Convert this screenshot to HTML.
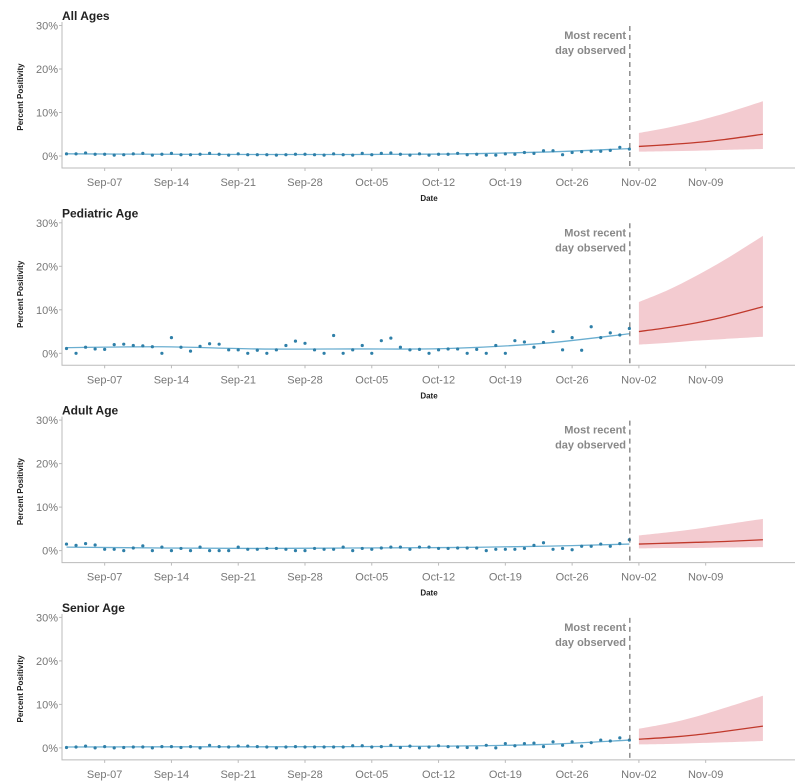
<!DOCTYPE html>
<html><head><meta charset="utf-8">
<style>
body{margin:0;background:#fff;}
svg{display:block;font-family:"Liberation Sans",sans-serif;}
</style></head>
<body>
<svg id="chart" width="800" height="784" viewBox="0 0 800 784" xmlns="http://www.w3.org/2000/svg"></svg>
<script>
const panelTitles = ["All Ages","Pediatric Age","Adult Age","Senior Age"];
const yTicks = [0,10,20,30];
const yTickLabels = ["0%","10%","20%","30%"];
const xTickDays = [4,11,18,25,32,39,46,53,60,67]; // days since Sep-03
const xTickLabels = ["Sep-07","Sep-14","Sep-21","Sep-28","Oct-05","Oct-12","Oct-19","Oct-26","Nov-02","Nov-09"];
const lastObservedDay = 59;
const forecastDays = [60,63,66,69,73];
const obsAll = [0.5,0.5,0.7,0.4,0.4,0.2,0.3,0.5,0.6,0.2,0.4,0.6,0.3,0.3,0.4,0.6,0.4,0.2,0.5,0.3,0.3,0.3,0.2,0.3,0.4,0.4,0.3,0.2,0.5,0.3,0.2,0.6,0.3,0.6,0.7,0.4,0.2,0.5,0.2,0.4,0.4,0.6,0.3,0.4,0.2,0.2,0.5,0.4,0.8,0.6,1.2,1.2,0.3,0.8,1.0,1.1,1.1,1.3,2.0,1.6];
const obsPed = [1.1,0,1.4,1.0,0.9,2.0,2.1,1.8,1.7,1.5,0,3.6,1.4,0.5,1.6,2.2,2.1,0.8,0.8,0,0.7,0,0.8,1.8,2.8,2.3,0.8,0,4.1,0,0.8,1.8,0,2.9,3.5,1.4,0.8,0.9,0,0.8,1.0,1.0,0,0.9,0,1.8,0,2.9,2.6,1.4,2.5,5.0,0.8,3.6,0.7,6.1,3.6,4.7,4.2,5.7];
const obsAdult = [1.5,1.2,1.6,1.3,0.3,0.3,0,0.6,1.1,0,0.8,0,0.5,0,0.8,0,0,0,0.8,0.3,0.3,0.5,0.5,0.3,0,0,0.5,0.3,0.3,0.8,0,0.5,0.3,0.6,0.8,0.8,0.3,0.8,0.8,0.5,0.5,0.6,0.6,0.6,0,0.3,0.3,0.3,0.5,1.2,1.8,0.3,0.5,0.2,1.0,1.0,1.5,1.0,1.6,2.5];
const obsSenior = [0.1,0.2,0.4,0,0.3,0,0.1,0.2,0.2,0,0.3,0.3,0.1,0.3,0,0.6,0.3,0.2,0.4,0.4,0.3,0.2,0,0.2,0.3,0.2,0.2,0.2,0.2,0.2,0.5,0.5,0.2,0.3,0.6,0.1,0.4,0,0.2,0.5,0.3,0.2,0.1,0,0.6,0,1.0,0.5,1.0,1.1,0.3,1.4,0.6,1.4,0.4,1.2,1.8,1.6,2.3,1.8];
const fitDays = [0,10,20,30,40,50,59];
const fitAll = [0.5,0.4,0.35,0.35,0.45,0.9,1.7];
const fitPed = [1.3,1.5,1.0,1.0,1.1,2.3,4.5];
const fitAdult = [0.8,0.6,0.5,0.6,0.7,1.0,1.5];
const fitSenior = [0.2,0.25,0.25,0.3,0.4,0.8,1.8];
const fcMeanAll=[2.2,2.6,3.1,3.8,5.0], fcLoAll=[1.0,1.1,1.2,1.4,1.6], fcHiAll=[5.3,6.5,8.0,9.8,12.6];
const fcMeanPed=[5.0,5.9,7.0,8.4,10.7], fcLoPed=[2.0,2.4,2.9,3.3,3.8], fcHiPed=[11.8,14.5,17.8,21.5,27.0];
const fcMeanAdult=[1.5,1.7,1.9,2.1,2.5], fcLoAdult=[0.5,0.6,0.6,0.7,0.8], fcHiAdult=[3.5,4.2,5.0,6.0,7.3];
const fcMeanSenior=[2.0,2.4,3.0,3.8,5.0], fcLoSenior=[0.8,0.9,1.1,1.3,1.6], fcHiSenior=[4.4,5.6,7.2,9.2,12.0];

const obsSets=[obsAll,obsPed,obsAdult,obsSenior];
const fitSets=[fitAll,fitPed,fitAdult,fitSenior];
const fcMean=[fcMeanAll,fcMeanPed,fcMeanAdult,fcMeanSenior];
const fcLo=[fcLoAll,fcLoPed,fcLoAdult,fcLoSenior];
const fcHi=[fcHiAll,fcHiPed,fcHiAdult,fcHiSenior];

const svg=document.getElementById('chart');
const NS='http://www.w3.org/2000/svg';
function mk(tag,attrs,parent){const e=document.createElementNS(NS,tag);for(const k in attrs)e.setAttribute(k,attrs[k]);(parent||svg).appendChild(e);return e;}
const X0=62,X1=795;
function xs(d){return 66.5+d*9.54;}
function smooth(pts){let s='M'+pts[0][0]+','+pts[0][1];for(let i=1;i<pts.length;i++){const p0=pts[Math.max(0,i-2)],p1=pts[i-1],p2=pts[i],p3=pts[Math.min(pts.length-1,i+1)];const c1=[p1[0]+(p2[0]-p0[0])/6,p1[1]+(p2[1]-p0[1])/6],c2=[p2[0]-(p3[0]-p1[0])/6,p2[1]-(p3[1]-p1[1])/6];s+=' C'+c1.join(',')+' '+c2.join(',')+' '+p2.join(',');}return s;}

for(let p=0;p<4;p++){
  const off=p*197.3;
  const ys=v=>156+off-v*4.35;
  const g=mk('g',{});
  
  
  const t=mk('text',{x:62,y:20+off,'font-size':12,'font-weight':'bold',fill:'#222'},g);t.textContent=panelTitles[p];
  
  const yt=mk('text',{x:0,y:0,'font-size':8,'font-weight':'bold',fill:'#222','text-anchor':'middle',transform:`translate(23,${97+off}) rotate(-90)`},g);yt.textContent='Percent Positivity';
  
  const ax=mk('path',{d:`M${X0},${22+off} V${168+off} H${X1}`,stroke:'#bbb','stroke-width':1,fill:'none'},g);
  
  yTicks.forEach((v,i)=>{
    mk('line',{x1:X0-3,x2:X0,y1:ys(v),y2:ys(v),stroke:'#bbb'},g);
    const l=mk('text',{x:X0-4,y:ys(v)+4,'font-size':11,fill:'#777','text-anchor':'end'},g);l.textContent=yTickLabels[i];
    
  });
  xTickDays.forEach((d,i)=>{
    mk('line',{x1:xs(d),x2:xs(d),y1:168+off,y2:171+off,stroke:'#bbb'},g);
    const l=mk('text',{x:xs(d),y:186+off,'font-size':11,fill:'#777','text-anchor':'middle'},g);l.textContent=xTickLabels[i];
    
  });
  const xt=mk('text',{x:429,y:201+off,'font-size':8,'font-weight':'bold',fill:'#222','text-anchor':'middle'},g);xt.textContent='Date';
  
  const up=forecastDays.map((d,i)=>[xs(d),ys(fcHi[p][i])]);
  const lo=forecastDays.map((d,i)=>[xs(d),ys(fcLo[p][i])]).reverse();
  const band=mk('path',{d:smooth(up)+' L'+lo[0].join(',')+' '+smooth(lo).slice(1).replace(/^[^C]*/,'')+' Z',fill:'#f3cbd0',stroke:'none'},g);
  
  const fm=mk('path',{d:smooth(forecastDays.map((d,i)=>[xs(d),ys(fcMean[p][i])])),stroke:'#c0392b','stroke-width':1.3,fill:'none'},g);
  
  const fl=mk('path',{d:smooth(fitDays.map((d,i)=>[xs(d),ys(fitSets[p][i])])),stroke:'#6aaed0','stroke-width':1.3,fill:'none'},g);
  
  obsSets[p].forEach((v,i)=>{
    const c=mk('circle',{cx:xs(i),cy:ys(v),r:1.6,fill:'#2e7fa8'},g);
    
  });
  const dl=mk('line',{x1:xs(lastObservedDay)+0.5,x2:xs(lastObservedDay)+0.5,y1:26+off,y2:168+off,stroke:'#555','stroke-dasharray':'5,4','stroke-width':1},g);
  
  const a1=mk('text',{x:626,y:39+off,'font-size':11,'font-weight':'bold',fill:'#888','text-anchor':'end'},g);a1.textContent='Most recent';
  
  const a2=mk('text',{x:626,y:54+off,'font-size':11,'font-weight':'bold',fill:'#888','text-anchor':'end'},g);a2.textContent='day observed';
  
}
</script>
</body></html>
